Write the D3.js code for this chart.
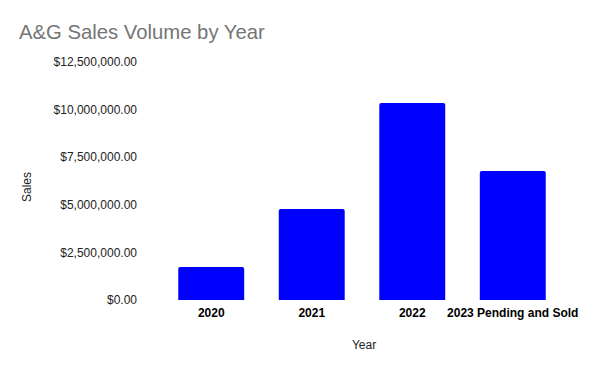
<!DOCTYPE html>
<html lang="en">
<head>
<meta charset="utf-8">
<title>A&amp;G Sales Volume by Year</title>
<script src="https://cdn.jsdelivr.net/npm/d3@7"></script>
<style>
  body { margin: 0; background: #fff; }
  text { font-family: "Liberation Sans", Arial, sans-serif; }
</style>
</head>
<body>
<script>
var width = 600;
var height = 371;

var years = ["2020", "2021", "2022", "2023 Pending and Sold"];
var sales = [1730000, 4780000, 10350000, 6780000];
var yTicks = [0, 2500000, 5000000, 7500000, 10000000, 12500000];

var svg = d3.select("body").append("svg")
    .attr("width", width)
    .attr("height", height);

var x = d3.scaleBand()
    .domain(years)
    .range([128, 596])
    .paddingInner(0.344)
    .paddingOuter(0.5);

var y = d3.scaleLinear()
    .domain([0, 12500000])
    .range([300, 62]);

var money = d3.format("$,.2f");

// title
svg.append("text")
    .attr("x", 19)
    .attr("y", 39)
    .attr("font-size", 20.3)
    .attr("fill", "#757575")
    .text("A&G Sales Volume by Year");

// y axis labels only
svg.selectAll(".ytick")
    .data(yTicks)
    .enter()
    .append("text")
    .attr("class", "ytick")
    .attr("x", 137)
    .attr("y", function(d) { return y(d); })
    .attr("dy", "0.35em")
    .attr("text-anchor", "end")
    .attr("font-size", 12)
    .attr("fill", "#222")
    .text(function(d) { return money(d); });

// bars, small rounded top corners
svg.selectAll(".bar")
    .data(sales)
    .enter()
    .append("path")
    .attr("class", "bar")
    .attr("fill", "#0000ff")
    .attr("d", function(d, i) {
        var x0 = x(years[i]), x1 = x0 + x.bandwidth();
        var top = y(d), bot = y(0), r = 2;
        return "M" + x0 + "," + bot +
            "V" + (top + r) +
            "Q" + x0 + "," + top + " " + (x0 + r) + "," + top +
            "H" + (x1 - r) +
            "Q" + x1 + "," + top + " " + x1 + "," + (top + r) +
            "V" + bot + "Z";
    });

// category labels
svg.selectAll(".xlab")
    .data(years)
    .enter()
    .append("text")
    .attr("class", "xlab")
    .attr("x", function(d) { return x(d) + x.bandwidth() / 2; })
    .attr("y", 317)
    .attr("text-anchor", "middle")
    .attr("font-size", 12)
    .attr("font-weight", "bold")
    .attr("fill", "#000")
    .text(function(d) { return d; });

// axis titles
svg.append("text")
    .attr("x", 364)
    .attr("y", 349)
    .attr("text-anchor", "middle")
    .attr("font-size", 12)
    .attr("fill", "#222")
    .text("Year");

svg.append("text")
    .attr("transform", "translate(31,187) rotate(-90)")
    .attr("text-anchor", "middle")
    .attr("font-size", 12)
    .attr("fill", "#222")
    .text("Sales");
</script>
</body>
</html>
